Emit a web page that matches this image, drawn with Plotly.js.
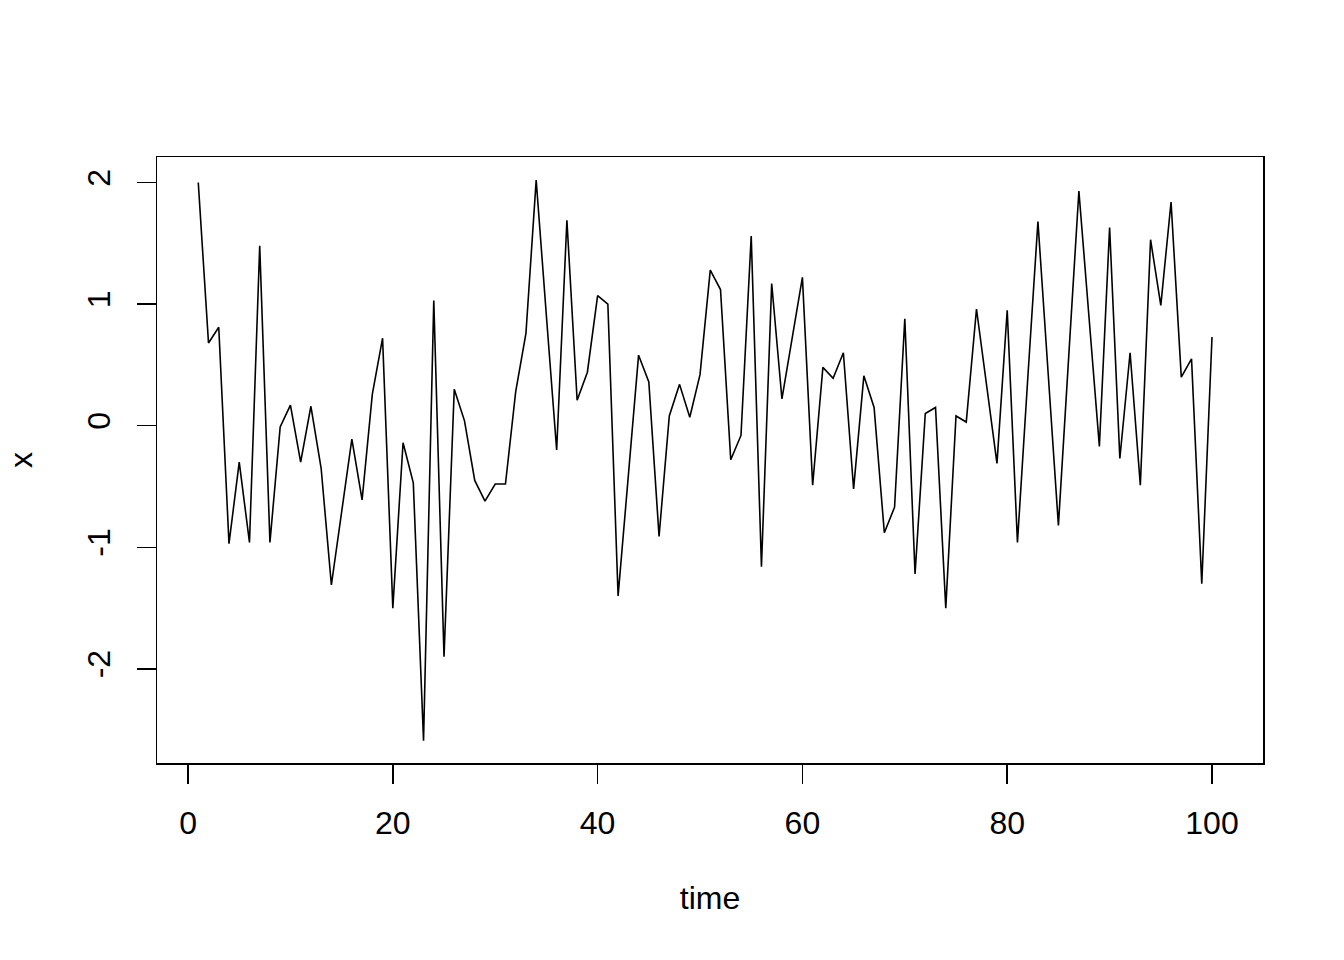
<!DOCTYPE html>
<html>
<head>
<meta charset="utf-8">
<script src="https://cdn.plot.ly/plotly-3.0.1.min.js"></script>
<style>
  html, body { margin: 0; padding: 0; background: #ffffff; }
  #chart { width: 1344px; height: 960px; }
</style>
</head>
<body>
<div id="chart"></div>
<script>
const time = [1,2,3,4,5,6,7,8,9,10,11,12,13,14,15,16,17,18,19,20,
  21,22,23,24,25,26,27,28,29,30,31,32,33,34,35,36,37,38,39,40,
  41,42,43,44,45,46,47,48,49,50,51,52,53,54,55,56,57,58,59,60,
  61,62,63,64,65,66,67,68,69,70,71,72,73,74,75,76,77,78,79,80,
  81,82,83,84,85,86,87,88,89,90,91,92,93,94,95,96,97,98,99,100];

const x = [2.00,0.68,0.81,-0.97,-0.30,-0.96,1.48,-0.96,-0.01,0.17,
  -0.30,0.16,-0.35,-1.31,-0.71,-0.11,-0.61,0.26,0.72,-1.50,
  -0.14,-0.47,-2.59,1.03,-1.90,0.30,0.04,-0.45,-0.62,-0.48,
  -0.48,0.28,0.76,2.02,0.90,-0.20,1.69,0.21,0.44,1.07,
  1.00,-1.40,-0.41,0.58,0.36,-0.91,0.08,0.34,0.07,0.42,
  1.28,1.12,-0.28,-0.08,1.56,-1.16,1.17,0.22,0.72,1.22,
  -0.49,0.48,0.39,0.60,-0.52,0.41,0.15,-0.88,-0.67,0.88,
  -1.22,0.10,0.15,-1.50,0.08,0.03,0.96,0.33,-0.31,0.95,
  -0.96,0.38,1.68,0.43,-0.82,0.56,1.93,0.88,-0.17,1.63,
  -0.27,0.60,-0.49,1.53,0.99,1.84,0.40,0.55,-1.30,0.73];

const xTickVals = [0,20,40,60,80,100];
const xTickText = ["0","20","40","60","80","100"];
const yTickVals = [-2,-1,0,1,2];
const yTickText = ["-2","-1","0","1","2"];

const font = "Liberation Sans, Arial, sans-serif";

const trace = {
  x: time, y: x, type: "scatter", mode: "lines",
  line: { color: "#000000", width: 1.6 },
  hoverinfo: "skip"
};

const layout = {
  width: 1344, height: 960,
  paper_bgcolor: "#ffffff", plot_bgcolor: "#ffffff",
  margin: { l: 157, r: 81, t: 157, b: 197, pad: 0 },
  showlegend: false,
  font: { family: font, size: 32, color: "#000000" },
  xaxis: {
    range: [-3.03, 104.98],
    tickvals: xTickVals, ticktext: xTickText,
    ticks: "outside", ticklen: 19, tickwidth: 1.5, tickcolor: "#000",
    ticklabelstandoff: 12,
    showgrid: false, zeroline: false,
    showline: true, mirror: true, linecolor: "#000", linewidth: 1.5,
    tickfont: { family: font, size: 32, color: "#000" },
    title: { text: "time", font: { family: font, size: 32, color: "#000" }, standoff: 46 },
    automargin: false
  },
  yaxis: {
    range: [-2.774, 2.21],
    tickvals: yTickVals, ticktext: yTickText,
    tickangle: -90,
    ticks: "outside", ticklen: 19, tickwidth: 1.5, tickcolor: "#000",
    ticklabelstandoff: 14,
    showgrid: false, zeroline: false,
    showline: true, mirror: true, linecolor: "#000", linewidth: 1.5,
    tickfont: { family: font, size: 32, color: "#000" },
    title: { text: "x", font: { family: font, size: 32, color: "#000" }, standoff: 38 },
    automargin: false
  }
};

Plotly.newPlot("chart", [trace], layout, { displayModeBar: false, staticPlot: true });
</script>
</body>
</html>
